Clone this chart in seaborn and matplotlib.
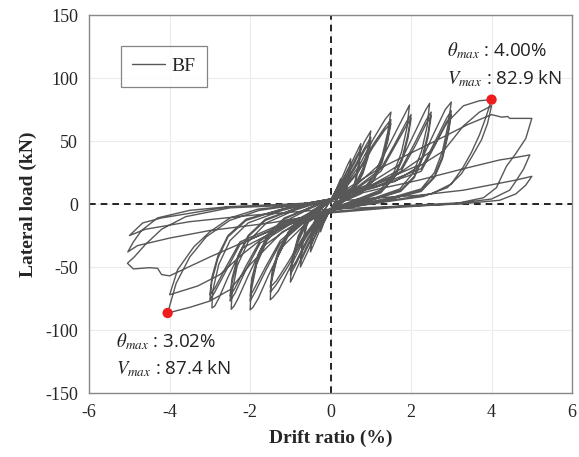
import matplotlib
matplotlib.use("Agg")
import matplotlib.pyplot as plt
import seaborn as sns
import pandas as pd

# ---- hysteresis cycles (drift %, lateral load kN) ----
c01 = [(0,0),(0.08,7),(0.16,13),(0.25,20),(0.22,12),(0.17,5),(0.1,1),(0.0,-4),(-0.08,-9),(-0.17,-15),(-0.25,-22),(-0.22,-13),(-0.16,-5),(-0.08,-1)]
c02 = [(0.0,3),(0.1,9),(0.18,14),(0.25,18),(0.22,11),(0.16,4),(0.08,0),(0.0,-4),(-0.1,-10),(-0.18,-15),(-0.25,-20),(-0.22,-12),(-0.16,-5),(-0.08,-1)]
c03 = [(0.0,3),(0.15,12),(0.3,22),(0.42,31),(0.5,36),(0.46,24),(0.38,12),(0.26,4),(0.12,0),(0.0,-4),(-0.15,-12),(-0.3,-23),(-0.42,-32),(-0.5,-38),(-0.46,-25),(-0.38,-13),(-0.26,-4),(-0.12,-0.5)]
c04 = [(0.0,3),(0.15,10),(0.3,19),(0.42,27),(0.5,32),(0.46,21),(0.38,10),(0.26,3),(0.12,-1),(0.0,-4),(-0.15,-11),(-0.3,-20),(-0.42,-28),(-0.5,-34),(-0.46,-22),(-0.38,-11),(-0.26,-3),(-0.12,0)]
c05 = [(0.0,3),(0.2,12),(0.4,25),(0.6,38),(0.75,48),(0.7,32),(0.6,17),(0.45,6),(0.25,1),(0.0,-4),(-0.2,-12),(-0.4,-26),(-0.6,-40),(-0.75,-50),(-0.7,-33),(-0.6,-18),(-0.45,-6),(-0.25,-1)]
c06 = [(0.0,3),(0.2,11),(0.4,22),(0.6,35),(0.75,44),(0.7,29),(0.6,15),(0.45,5),(0.25,0),(0.0,-4),(-0.2,-11),(-0.4,-23),(-0.6,-36),(-0.75,-46),(-0.7,-30),(-0.6,-16),(-0.45,-5),(-0.25,-1)]
c07 = [(0.0,3),(0.3,16),(0.6,33),(0.85,50),(1.0,58),(0.93,44),(0.8,28),(0.6,15),(0.3,5),(0.0,-4),(-0.3,-16),(-0.6,-34),(-0.85,-52),(-0.95,-59),(-1.0,-62),(-0.97,-50),(-0.85,-33),(-0.6,-16),(-0.3,-6)]
c08 = [(0.0,3),(0.3,14),(0.6,30),(0.85,45),(1.0,53),(0.93,40),(0.8,26),(0.6,13),(0.3,4),(0.0,-4),(-0.3,-14),(-0.6,-31),(-0.85,-47),(-1.0,-56),(-0.93,-42),(-0.8,-27),(-0.6,-14),(-0.3,-5)]
c08b = [(0.0,3),(0.3,13),(0.6,28),(0.85,43),(1.0,50),(0.93,37),(0.8,24),(0.6,12),(0.3,3),(0.0,-4),(-0.3,-13),(-0.6,-29),(-0.85,-45),(-1.0,-53),(-0.93,-40),(-0.8,-25),(-0.6,-13),(-0.3,-4)]
c09 = [(0.0,4),(0.35,14),(0.7,30),(1.05,51),(1.35,67),(1.5,73),(1.42,57),(1.28,38),(1.08,22),(0.75,10),(0.3,3),(0.0,-4),(-0.35,-14),(-0.7,-31),(-1.05,-53),(-1.3,-69),(-1.43,-74),(-1.5,-76),(-1.48,-63),(-1.33,-43),(-1.05,-25),(-0.7,-12),(-0.3,-4)]
c10 = [(0.0,4),(0.35,13),(0.7,27),(1.05,47),(1.35,61),(1.5,67),(1.42,52),(1.28,35),(1.08,20),(0.75,9),(0.3,2),(0.0,-4),(-0.35,-13),(-0.7,-29),(-1.05,-49),(-1.35,-64),(-1.5,-70),(-1.45,-56),(-1.3,-39),(-1.05,-23),(-0.7,-11),(-0.3,-3)]
c10b = [(0.0,4),(0.35,12),(0.7,26),(1.05,45),(1.35,59),(1.5,64),(1.42,50),(1.28,33),(1.08,19),(0.75,8),(0.3,2),(0.0,-4),(-0.35,-12),(-0.7,-27),(-1.05,-46),(-1.35,-61),(-1.5,-66),(-1.45,-53),(-1.3,-37),(-1.05,-22),(-0.7,-10),(-0.3,-3)]
c11 = [(0.0,4),(0.6,14),(1.2,31),(1.55,53),(1.85,72),(1.96,78.6),(1.9,61),(1.76,41),(1.56,24),(1.23,11),(0.75,5),(0.0,-4),(-0.6,-15),(-1.2,-34),(-1.55,-57),(-1.8,-75),(-1.93,-82),(-2.0,-84),(-1.98,-70),(-1.84,-48),(-1.58,-29),(-1.15,-14),(-0.6,-5)]
c12 = [(0.0,4),(0.6,12),(1.25,28),(1.6,48),(1.88,65),(2.0,71),(1.92,55),(1.78,37),(1.58,22),(1.25,10),(0.75,4),(0.0,-4),(-0.6,-13),(-1.25,-31),(-1.6,-52),(-1.88,-70),(-2.0,-77),(-1.96,-62),(-1.8,-42),(-1.55,-25),(-1.15,-12),(-0.6,-4)]
c12b = [(0.0,4),(0.6,11),(1.25,26),(1.6,46),(1.88,62),(2.0,68),(1.92,52),(1.78,35),(1.58,21),(1.25,9),(0.75,3),(0.0,-4),(-0.6,-12),(-1.25,-29),(-1.6,-49),(-1.88,-66),(-2.0,-73),(-1.96,-59),(-1.8,-40),(-1.55,-24),(-1.15,-11),(-0.6,-4)]
c13 = [(0.0,4),(0.9,15),(1.7,31),(2.05,54),(2.35,74),(2.46,80),(2.4,62),(2.26,42),(2.06,25),(1.72,12),(1.1,5),(0.0,-4),(-0.9,-16),(-1.7,-34),(-2.05,-57),(-2.3,-75),(-2.4,-81),(-2.47,-83.5),(-2.45,-70),(-2.32,-49),(-2.05,-30),(-1.6,-15),(-0.9,-5)]
c14 = [(0.0,4),(0.9,13),(1.75,28),(2.1,49),(2.38,67),(2.5,73),(2.42,56),(2.28,38),(2.08,22),(1.74,11),(1.1,4),(0.0,-4),(-0.9,-14),(-1.75,-31),(-2.1,-52),(-2.38,-71),(-2.5,-77),(-2.45,-62),(-2.3,-43),(-2.05,-26),(-1.62,-13),(-0.9,-4)]
c14b = [(0.0,4),(0.9,12),(1.75,26),(2.1,46),(2.38,64),(2.5,70),(2.42,53),(2.28,36),(2.08,21),(1.74,10),(1.1,4),(0.0,-4),(-0.9,-13),(-1.75,-29),(-2.1,-49),(-2.38,-67),(-2.5,-73),(-2.45,-59),(-2.3,-41),(-2.05,-25),(-1.62,-12),(-0.9,-4)]
c15 = [(0.0,4),(1.1,16),(2.2,31),(2.55,55),(2.85,75),(3.0,81),(2.92,63),(2.78,42),(2.58,25),(2.25,12),(1.5,5),(0.0,-4),(-1.1,-17),(-2.2,-35),(-2.55,-58),(-2.78,-75),(-2.88,-81),(-2.95,-82.5),(-2.93,-69),(-2.78,-48),(-2.5,-29),(-2.05,-15),(-1.2,-5)]
c16 = [(0.0,4),(1.1,14),(2.25,28),(2.6,50),(2.88,68),(3.0,74),(2.92,57),(2.78,38),(2.58,22),(2.25,11),(1.5,4),(0.0,-4),(-1.1,-15),(-2.25,-32),(-2.6,-53),(-2.88,-70),(-3.0,-76),(-2.95,-61),(-2.8,-43),(-2.55,-26),(-2.1,-13),(-1.2,-4)]
c16b = [(0.0,4),(1.1,13),(2.25,26),(2.6,47),(2.88,65),(3.0,71),(2.92,55),(2.78,36),(2.58,21),(2.25,10),(1.5,4),(0.0,-4),(-1.1,-14),(-2.25,-30),(-2.6,-50),(-2.88,-67),(-3.0,-72),(-2.95,-58),(-2.8,-41),(-2.55,-25),(-2.1,-12),(-1.2,-4)]
c17 = [(0.0,4),(1.5,20),(2.5,42),(2.9,65),(3.3,78),(3.7,82),(4.0,82.9),(3.85,68),(3.7,55),(3.5,41),(3.29,29),(3.0,16),(2.5,8),(1.5,3),(0.0,-5),(-1.2,-22),(-2.0,-48),(-2.5,-68),(-3.0,-77),(-3.5,-82),(-4.05,-86.5),(-3.84,-63),(-3.5,-42),(-3.09,-26),(-2.51,-13),(-1.77,-5),(-0.9,-1)]
c18 = [(0.0,4),(1.6,18),(2.8,42),(3.3,62),(3.7,73),(4.0,78),(3.9,64),(3.75,51),(3.5,37),(3.25,24),(2.9,13),(2.3,6),(1.2,1),(0.0,-5),(-1.4,-20),(-2.2,-40),(-2.75,-56),(-3.3,-65),(-4.0,-72),(-3.8,-52),(-3.4,-34),(-3.0,-22),(-2.5,-11),(-1.8,-4),(-0.9,-1)]
c19 = [(0.0,4),(1.2,28),(2.6,50),(3.4,63),(4.0,71),(4.25,69),(4.4,69.5),(4.45,68),(5.0,68),(4.85,52),(4.6,40),(4.37,30),(4.12,13),(3.8,5),(3.2,1),(2.0,-1),(0.0,-6),(-1.0,-15),(-2.0,-28),(-3.0,-42),(-3.6,-51),(-4.0,-57),(-4.2,-56),(-4.3,-51),(-4.5,-50.5),(-4.9,-51.5),(-5.05,-47),(-4.88,-42),(-4.6,-32),(-4.2,-20),(-3.6,-10),(-2.5,-3),(-1.0,-1)]
c20 = [(0.0,3),(1.2,12),(2.2,19),(3.3,28),(4.2,35),(4.6,37),(4.95,39),(4.8,28),(4.6,18),(4.45,11),(4.0,4),(3.0,0),(1.5,-3),(0.0,-7),(-1.5,-15),(-3.0,-21),(-4.0,-27),(-4.8,-33),(-5.04,-38),(-4.9,-30),(-4.7,-21),(-4.3,-11),(-3.5,-5),(-2.5,-2),(-1.0,0)]
c21 = [(0.0,2),(1.2,5),(2.2,7),(3.3,11),(4.6,19),(5.0,22),(4.85,15),(4.6,8),(4.2,3),(3.2,0),(1.5,-2),(0.0,-4),(-2.0,-9),(-3.5,-14),(-4.6,-20),(-5.0,-25),(-4.67,-15),(-4.2,-11),(-3.76,-8.7),(-2.5,-2)]

cycles = [c01, c02, c03, c04, c05, c06, c07, c08, c08b, c09, c10, c10b,
          c11, c12, c12b, c13, c14, c14b, c15, c16, c16b, c17, c18,
          c19, c20, c21]

peak_drift = [4.0, -4.05]
peak_load = [82.9, -86.5]
ann_pos = ["$\\theta_{max}$ : 4.00%", "$V_{max}$ : 82.9 kN"]
ann_neg = ["$\\theta_{max}$ : 3.02%", "$V_{max}$ : 87.4 kN"]
xticks = [-6, -4, -2, 0, 2, 4, 6]
yticks = [-150, -100, -50, 0, 50, 100, 150]

rows = []
for c in cycles:
    rows.extend(c)
df = pd.DataFrame(rows, columns=["drift", "load"])
df["series"] = "BF"
peaks = pd.DataFrame({"drift": peak_drift, "load": peak_load})

sns.set_style("white")
plt.rcParams["font.family"] = ["Liberation Serif", "DejaVu Serif"]
plt.rcParams["axes.unicode_minus"] = False
plt.rcParams["mathtext.fontset"] = "stix"

fig = plt.figure(figsize=(5.79, 4.57), dpi=100)
ax = fig.add_axes([0.154, 0.14, 0.834, 0.827])

ax.grid(True, color="#ececec", linewidth=0.8, zorder=0)
ax.axhline(0, color="black", linestyle=(0, (4, 3)), linewidth=1.2, zorder=1)
ax.axvline(0, color="black", linestyle=(0, (4, 3)), linewidth=1.2, zorder=1)

sns.lineplot(data=df, x="drift", y="load", hue="series", palette=["#585858"],
             sort=False, estimator=None, linewidth=1.0, ax=ax, zorder=2)
sns.scatterplot(data=peaks, x="drift", y="load", color="#ee1c1c", s=55,
                edgecolor="none", ax=ax, zorder=4, legend=False)

ax.set_xlim(-6, 6)
ax.set_ylim(-150, 150)
ax.set_xticks(xticks)
ax.set_yticks(yticks)
ax.tick_params(direction="in", length=4, width=0.8, color="#888888",
               labelsize=13, pad=8)
for s in ax.spines.values():
    s.set_color("#888888")
    s.set_linewidth(1.0)

ax.set_xlabel("Drift ratio (%)", fontsize=14, fontweight="bold", labelpad=6)
ax.set_ylabel("Lateral load (kN)", fontsize=14, fontweight="bold", labelpad=6)

leg = ax.legend(loc="upper left", bbox_to_anchor=(0.045, 0.945), fontsize=14,
                frameon=True, fancybox=False, handlelength=1.7,
                handletextpad=0.3, borderpad=0.6)
leg.get_frame().set_edgecolor("#666666")
leg.get_frame().set_linewidth(0.9)

tf = {"family": ["Open Sans", "DejaVu Sans"], "fontsize": 13.5, "color": "#222222"}
ax.text(0.742, 0.89, ann_pos[0], transform=ax.transAxes, **tf)
ax.text(0.742, 0.818, ann_pos[1], transform=ax.transAxes, **tf)
ax.text(0.055, 0.122, ann_neg[0], transform=ax.transAxes, **tf)
ax.text(0.055, 0.05, ann_neg[1], transform=ax.transAxes, **tf)

fig.savefig("out.png", dpi=100)
